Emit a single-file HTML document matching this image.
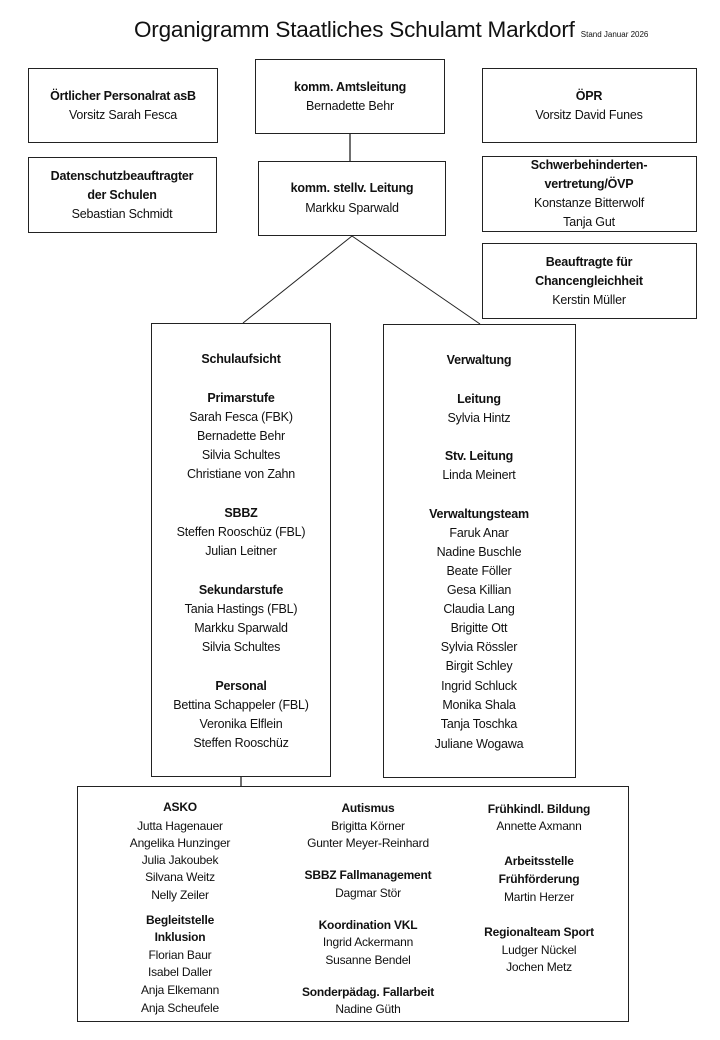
<!DOCTYPE html>
<html><head><meta charset="utf-8"><style>
body{margin:0;background:#fff;}
#c{position:relative;width:720px;height:1040px;overflow:hidden;font-family:"Liberation Sans",sans-serif;color:#111;}
.b{position:absolute;border:1.3px solid #222;box-sizing:border-box;background:#fff;}
.t{position:absolute;width:300px;margin-left:-150px;text-align:center;font-size:12.5px;line-height:18px;white-space:nowrap;letter-spacing:-0.2px;}
.s{font-size:12px;}
.k{font-weight:bold;}
</style></head><body><div id="c">
<svg style="position:absolute;left:0;top:0" width="720" height="1040">
<line x1="350" y1="134" x2="350" y2="161" stroke="#222" stroke-width="1.3"/>
<line x1="352" y1="236" x2="243" y2="323" stroke="#222" stroke-width="1"/>
<line x1="352" y1="236" x2="480" y2="324" stroke="#222" stroke-width="1"/>
<line x1="241" y1="777" x2="241" y2="786" stroke="#222" stroke-width="1.3"/>
</svg>
<div style="position:absolute;left:134px;top:17px;font-size:22.5px;white-space:nowrap;letter-spacing:-0.2px;">Organigramm Staatliches Schulamt Markdorf <span style="font-size:8px;letter-spacing:0">Stand Januar 2026</span></div>
<div class="b" style="left:28px;top:68px;width:190px;height:75px"></div>
<div class="b" style="left:255px;top:59px;width:190px;height:75px"></div>
<div class="b" style="left:482px;top:68px;width:215px;height:75px"></div>
<div class="b" style="left:28px;top:157px;width:189px;height:76px"></div>
<div class="b" style="left:258px;top:161px;width:188px;height:75px"></div>
<div class="b" style="left:482px;top:156px;width:215px;height:76px"></div>
<div class="b" style="left:482px;top:243px;width:215px;height:76px"></div>
<div class="b" style="left:151px;top:323px;width:180px;height:454px"></div>
<div class="b" style="left:383px;top:324px;width:193px;height:454px"></div>
<div class="b" style="left:77px;top:786px;width:552px;height:236px"></div>

<div class="t k" style="left:123px;top:87px">Örtlicher Personalrat asB</div>
<div class="t" style="left:123px;top:106px">Vorsitz Sarah Fesca</div>
<div class="t k" style="left:350px;top:78px">komm. Amtsleitung</div>
<div class="t" style="left:350px;top:97px">Bernadette Behr</div>
<div class="t k" style="left:589px;top:87px">ÖPR</div>
<div class="t" style="left:589px;top:106px">Vorsitz David Funes</div>
<div class="t k" style="left:122px;top:167px">Datenschutzbeauftragter</div>
<div class="t k" style="left:122px;top:186px">der Schulen</div>
<div class="t" style="left:122px;top:205px">Sebastian Schmidt</div>
<div class="t k" style="left:352px;top:179px">komm. stellv. Leitung</div>
<div class="t" style="left:352px;top:199px">Markku Sparwald</div>
<div class="t k" style="left:589px;top:156px">Schwerbehinderten-</div>
<div class="t k" style="left:589px;top:175px">vertretung/ÖVP</div>
<div class="t" style="left:589px;top:194px">Konstanze Bitterwolf</div>
<div class="t" style="left:589px;top:213px">Tanja Gut</div>
<div class="t k" style="left:589px;top:253px">Beauftragte für</div>
<div class="t k" style="left:589px;top:272px">Chancengleichheit</div>
<div class="t" style="left:589px;top:291px">Kerstin Müller</div>

<div class="t k" style="left:241px;top:350px">Schulaufsicht</div>
<div class="t k" style="left:241px;top:389px">Primarstufe</div>
<div class="t" style="left:241px;top:408px">Sarah Fesca (FBK)</div>
<div class="t" style="left:241px;top:427px">Bernadette Behr</div>
<div class="t" style="left:241px;top:446px">Silvia Schultes</div>
<div class="t" style="left:241px;top:465px">Christiane von Zahn</div>
<div class="t k" style="left:241px;top:504px">SBBZ</div>
<div class="t" style="left:241px;top:523px">Steffen Rooschüz (FBL)</div>
<div class="t" style="left:241px;top:542px">Julian Leitner</div>
<div class="t k" style="left:241px;top:581px">Sekundarstufe</div>
<div class="t" style="left:241px;top:600px">Tania Hastings (FBL)</div>
<div class="t" style="left:241px;top:619px">Markku Sparwald</div>
<div class="t" style="left:241px;top:638px">Silvia Schultes</div>
<div class="t k" style="left:241px;top:677px">Personal</div>
<div class="t" style="left:241px;top:696px">Bettina Schappeler (FBL)</div>
<div class="t" style="left:241px;top:715px">Veronika Elflein</div>
<div class="t" style="left:241px;top:734px">Steffen Rooschüz</div>

<div class="t k" style="left:479px;top:351px">Verwaltung</div>
<div class="t k" style="left:479px;top:390px">Leitung</div>
<div class="t" style="left:479px;top:409px">Sylvia Hintz</div>
<div class="t k" style="left:479px;top:447px">Stv. Leitung</div>
<div class="t" style="left:479px;top:466px">Linda Meinert</div>
<div class="t k" style="left:479px;top:505px">Verwaltungsteam</div>
<div class="t" style="left:479px;top:524px">Faruk Anar</div>
<div class="t" style="left:479px;top:543px">Nadine Buschle</div>
<div class="t" style="left:479px;top:562px">Beate Föller</div>
<div class="t" style="left:479px;top:581px">Gesa Killian</div>
<div class="t" style="left:479px;top:600px">Claudia Lang</div>
<div class="t" style="left:479px;top:619px">Brigitte Ott</div>
<div class="t" style="left:479px;top:638px">Sylvia Rössler</div>
<div class="t" style="left:479px;top:657px">Birgit Schley</div>
<div class="t" style="left:479px;top:677px">Ingrid Schluck</div>
<div class="t" style="left:479px;top:696px">Monika Shala</div>
<div class="t" style="left:479px;top:715px">Tanja Toschka</div>
<div class="t" style="left:479px;top:735px">Juliane Wogawa</div>

<div class="t s k" style="left:180px;top:798px">ASKO</div>
<div class="t s" style="left:180px;top:817px">Jutta Hagenauer</div>
<div class="t s" style="left:180px;top:834px">Angelika Hunzinger</div>
<div class="t s" style="left:180px;top:851px">Julia Jakoubek</div>
<div class="t s" style="left:180px;top:868px">Silvana Weitz</div>
<div class="t s" style="left:180px;top:886px">Nelly Zeiler</div>
<div class="t s k" style="left:180px;top:911px">Begleitstelle</div>
<div class="t s k" style="left:180px;top:928px">Inklusion</div>
<div class="t s" style="left:180px;top:946px">Florian Baur</div>
<div class="t s" style="left:180px;top:963px">Isabel Daller</div>
<div class="t s" style="left:180px;top:981px">Anja Elkemann</div>
<div class="t s" style="left:180px;top:999px">Anja Scheufele</div>

<div class="t s k" style="left:368px;top:799px">Autismus</div>
<div class="t s" style="left:368px;top:817px">Brigitta Körner</div>
<div class="t s" style="left:368px;top:834px">Gunter Meyer-Reinhard</div>
<div class="t s k" style="left:368px;top:866px">SBBZ Fallmanagement</div>
<div class="t s" style="left:368px;top:884px">Dagmar Stör</div>
<div class="t s k" style="left:368px;top:916px">Koordination VKL</div>
<div class="t s" style="left:368px;top:933px">Ingrid Ackermann</div>
<div class="t s" style="left:368px;top:951px">Susanne Bendel</div>
<div class="t s k" style="left:368px;top:983px">Sonderpädag. Fallarbeit</div>
<div class="t s" style="left:368px;top:1000px">Nadine Güth</div>

<div class="t s k" style="left:539px;top:800px">Frühkindl. Bildung</div>
<div class="t s" style="left:539px;top:817px">Annette Axmann</div>
<div class="t s k" style="left:539px;top:852px">Arbeitsstelle</div>
<div class="t s k" style="left:539px;top:870px">Frühförderung</div>
<div class="t s" style="left:539px;top:888px">Martin Herzer</div>
<div class="t s k" style="left:539px;top:923px">Regionalteam Sport</div>
<div class="t s" style="left:539px;top:941px">Ludger Nückel</div>
<div class="t s" style="left:539px;top:958px">Jochen Metz</div>
</div></body></html>
